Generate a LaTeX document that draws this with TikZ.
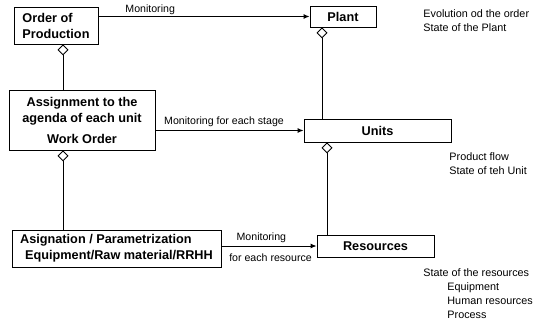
\documentclass[tikz,border=0pt]{standalone}
\usepackage{fontspec}
\setmainfont{Liberation Sans}
\usetikzlibrary{arrows.meta}
\begin{document}
\begin{tikzpicture}
  [x=1pt,y=-1pt,line width=.9pt,every node/.style={inner sep=0pt}]
  \tikzstyle{box} = [draw,font=\fontsize{12.7}{16}\selectfont\bfseries]
  \tikzstyle{note} = [font=\fontsize{10.8}{14}\selectfont,align=left,anchor=north west]
  \tikzstyle{lbl} = [font=\fontsize{10.6}{14}\selectfont]
  \tikzstyle{mon} = [-{Latex[length=6pt,width=5pt]}]
  \tikzstyle{part} = [{Diamond[open,length=11pt,width=11pt]}-]
  \useasboundingbox (0,0) rectangle (539,322);
  \node[box,minimum width=84pt,minimum height=37pt,align=left] (order) at (56,25.5) {Order of\\Production};
  \node[box,minimum width=146pt,minimum height=60pt,align=center] (assign) at (82,120) {Assignment to the\\agenda of each unit\\[5pt]Work Order};
  \node[box,minimum width=209pt,minimum height=37pt,align=left] (asig) at (116.5,248.5) {Asignation / Parametrization\\\hspace*{5pt}Equipment/Raw material/RRHH};
  \node[box,minimum width=66pt,minimum height=21pt] (plant) at (343,16.5) {Plant};
  \node[box,minimum width=147pt,minimum height=23pt] (units) at (377.5,130.5) {Units};
  \node[box,minimum width=117pt,minimum height=22pt] (resources) at (375.5,246) {Resources};

  \node[note] (plantnote) at (423,9) {Evolution od the order\\State of the Plant};
  \node[note] (unitsnote) at (449,152) {Product flow\\State of teh Unit};
  \node[note] (resnote) at (423,268) {State of the resources\\\hspace*{24pt}Equipment\\\hspace*{24pt}Human resources\\\hspace*{24pt}Process};

\foreach \from /\to /\dx in {order/assign/7,assign/asig/-19,plant/units/-21,units/resources/-50.5}
   \draw[part] ([xshift=\dx]\from.south) -- ([xshift=\dx]\from.south |- \to.north);

  \draw[mon] (plant.west -| order.east) -- node[lbl,pos=.245,above=1pt] {Monitoring} (plant.west);
  \draw[mon] (units.west -| assign.east) -- node[lbl,pos=.463,above=3pt] {Monitoring for each stage} (units.west);
  \draw[mon] (resources.west -| asig.east) -- node[lbl,pos=.42,above=3pt] {Monitoring}
     node[lbl,pos=.516,below=7pt] {for each resource} (resources.west);
  \end{tikzpicture}
\end{document}
